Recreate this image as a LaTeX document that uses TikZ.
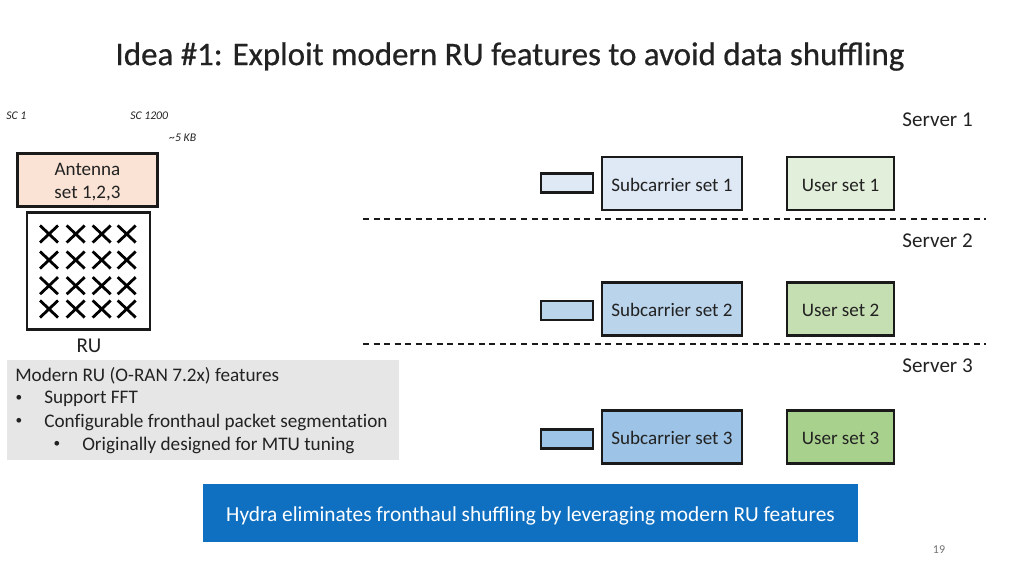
\documentclass[tikz,border=0pt]{standalone}
\usepackage{xcolor}
\usepackage{fontspec}
\setmainfont{Carlito}
\usetikzlibrary{positioning,arrows.meta}
\definecolor{antfill}{HTML}{FAE3D5}
\definecolor{subone}{HTML}{DEE9F5}
\definecolor{subtwo}{HTML}{BAD4EC}
\definecolor{subthree}{HTML}{9DC3E6}
\definecolor{userone}{HTML}{E2EFDA}
\definecolor{usertwo}{HTML}{C6DFB2}
\definecolor{userthree}{HTML}{A9D18E}
\definecolor{notegray}{HTML}{E6E6E6}
\definecolor{hydrablue}{HTML}{0F6FC0}
\definecolor{edgedark}{HTML}{1A1A1A}
\definecolor{inkdark}{HTML}{222222}
\tikzset{
  box/.style={draw=edgedark, line width=1.8pt, inner sep=0pt, minimum width=#1},
  subbox/.style={box=105pt, minimum height=40pt, text=inkdark, text height=11.5pt, text depth=0pt, font=\fontsize{14.3}{17}\selectfont},
  userbox/.style={box=80pt, minimum height=40pt, text=inkdark, text height=11.5pt, text depth=0pt, font=\fontsize{14.3}{17}\selectfont},
  tinybox/.style={box=39pt, minimum height=14.5pt},
  label/.style={inner sep=0pt, text=inkdark, font=\fontsize{15.8}{19}\selectfont},
  small/.style={inner sep=0pt, text=inkdark, font=\fontsize{8.8}{10}\selectfont\itshape},
  noteline/.style={inner sep=0pt, text=inkdark, font=\fontsize{14.4}{17}\selectfont\addfontfeature{Ligatures=NoCommon}},
  dotmark/.style={inner sep=0pt, text=inkdark, font=\fontsize{10}{12}\selectfont},
  divider/.style={dash pattern=on 4.5pt off 3.4pt, line width=1pt, edgedark},
  cross/.style={line width=2.1pt, black}
}
\begin{document}
\begin{tikzpicture}[x=0.75pt, y=-0.75pt]
\useasboundingbox (0,0) rectangle (1024,576);

\node[inner sep=0pt, text=inkdark, font=\fontsize{24.7}{30}\selectfont\addfontfeature{FakeBold=0.6}] (title) at (510,56.5) {Idea \#1: Exploit modern RU features to avoid data shuffling};

\node[small, anchor=west] (scfirst) at (6,115.5) {SC 1};
\node[small, anchor=west] (sclast) at (130,115.5) {SC 1200};
\node[small, anchor=west] (scsize) at (169,137.5) {\char`~5 KB};

\node[box=105pt, minimum height=40pt, fill=antfill, align=center, text=inkdark, font=\fontsize{14.3}{17.2}\selectfont] (antenna) at (87.5,180) {\rule{0pt}{13pt}Antenna\\set 1,2,3};
\node[box=92pt, minimum height=88pt, fill=white] (ru) at (88.5,271) {};
\node[label] (rulabel) at (89,346) {RU};

% antenna crosses
\foreach \cx in {49,75.7,101.7,126.7}
  \foreach \cy in {234,260,285.7,309} {
    \coordinate (c) at (\cx,\cy);
    \draw[cross] ([shift={(-9,-8.5)}]c) -- ([shift={(9,8.5)}]c);
    \draw[cross] ([shift={(-9,8.5)}]c) -- ([shift={(9,-8.5)}]c);
  }

\node[fill=notegray, minimum width=293.5pt, minimum height=75.5pt, inner sep=0pt] (note) at (203,410) {};
\node[noteline, anchor=west] (noteone) at (15,376) {Modern RU (O-RAN 7.2x) features};
\node[dotmark] (bulletone) at (19,398) {•};
\node[noteline, anchor=west] (notetwo) at (44,399) {Support FFT};
\node[dotmark] (bullettwo) at (19,421) {•};
\node[noteline, anchor=west] (notethree) at (44,422) {Configurable fronthaul packet segmentation};
\node[dotmark] (bulletthree) at (57,444) {•};
\node[noteline, anchor=west] (notefour) at (82,445) {Originally designed for MTU tuning};

% server rows
\node[tinybox, fill=subone] (tiny_1) at (567,183) {};
\node[subbox, fill=subone] (sub_1) at (672,183.5) {Subcarrier set 1};
\node[userbox, fill=userone] (user_1) at (840.5,183.5) {User set 1};

\node[tinybox, fill=subtwo] (tiny_2) at (567,310.5) {};
\node[subbox, fill=subtwo] (sub_2) at (672,309) {Subcarrier set 2};
\node[userbox, fill=usertwo] (user_2) at (840.5,309) {User set 2};

\node[tinybox, fill=subthree] (tiny_3) at (567,439) {};
\node[subbox, fill=subthree] (sub_3) at (672,437) {Subcarrier set 3};
\node[userbox, fill=userthree] (user_3) at (840.5,437) {User set 3};

\node[label, anchor=east] (server_1) at (973,119.5) {Server 1};
\node[label, anchor=east] (server_2) at (973,240.5) {Server 2};
\node[label, anchor=east] (server_3) at (973,365.5) {Server 3};

\coordinate (div_1a) at (363,219);
\coordinate (div_1b) at (986,219);
\coordinate (div_2a) at (363,344);
\coordinate (div_2b) at (986,344);
\draw[divider] (div_1a) -- (div_1b);
\draw[divider] (div_2a) -- (div_2b);

\node[fill=hydrablue, text=white, minimum width=491.5pt, minimum height=43pt, inner sep=0pt, text height=16pt, text depth=3.5pt, font=\fontsize{16}{19}\selectfont] (hydra) at (530.5,513) {Hydra eliminates fronthaul shuffling by leveraging modern RU features};

\node[inner sep=0pt, text=black!55, font=\fontsize{9}{11}\selectfont] (pagenum) at (939,550) {19};

\end{tikzpicture}
\end{document}
